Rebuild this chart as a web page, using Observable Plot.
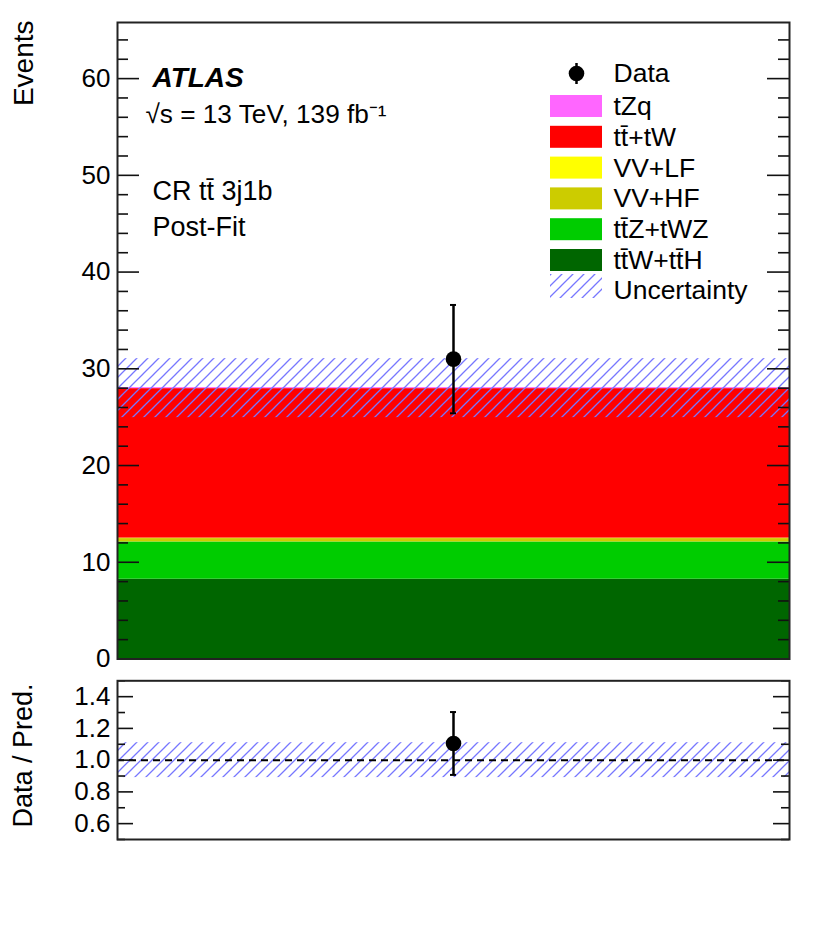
<!DOCTYPE html>
<html>
<head>
<meta charset="utf-8">
<script src="https://cdn.jsdelivr.net/npm/d3@7"></script>
<script src="https://cdn.jsdelivr.net/npm/@observablehq/plot@0.6"></script>
<style>
  body { margin: 0; background: #fff; }
  #chart svg { display: block; overflow: visible; }
</style>
</head>
<body>
<div id="chart"></div>
<script>
// ---------- data ----------
const processes = ["tt\u0304W+tt\u0304H", "tt\u0304Z+tWZ", "VV+HF", "VV+LF", "tt\u0304+tW", "tZq"];
const yields    = [8.25, 3.85, 0.35, 0.05, 15.45, 0.1];
const colors    = ["#006600", "#00cc00", "#cccc00", "#ffff00", "#ff0000", "#ff66ff"];
const binEdges  = [0, 1];
const uncLow    = [24.95];
const uncHigh   = [31.05];
const dataX     = [0.5];
const dataY     = [31];
const dataLow   = [25.4];
const dataHigh  = [36.6];
const ratioY    = [1.105];
const ratioLow  = [0.907];
const ratioHigh = [1.303];
const ratioUncLow  = [0.89];
const ratioUncHigh = [1.11];
const mainTicksMajor = [0, 10, 20, 30, 40, 50, 60];
const mainTicksMinor = [2, 4, 6, 8, 12, 14, 16, 18, 22, 24, 26, 28, 32, 34, 36, 38, 42, 44, 46, 48, 52, 54, 56, 58, 62, 64];
const ratioTicksMajor = [0.6, 0.8, 1.0, 1.2, 1.4];
const ratioTicksMinor = [0.5, 0.7, 0.9, 1.1, 1.3, 1.5];
const legendLabels = ["tZq", "tt\u0304+tW", "VV+LF", "VV+HF", "tt\u0304Z+tWZ", "tt\u0304W+tt\u0304H"];
const legendColors = ["#ff66ff", "#ff0000", "#ffff00", "#cccc00", "#00cc00", "#006600"];

// ---------- layout ----------
const W = 830;
const FONT = "'Liberation Sans', Arial, Helvetica, sans-serif";
const HATCH = "#7777ff";
const TXT = 27;
const LEG = 26.5;
const M = {H: 670, top: 22, bottom: 11.5, left: 117, right: 41, ymax: 65.8};
const R = {H: 266, top: 10.3, bottom: 97, ymin: 0.5, ymax: 1.5};
const innerW = W - M.left - M.right;
const fx = px => (px - M.left) / innerW;                       // pixel -> x data
const fyM = py => M.ymax * (M.H - M.bottom - py) / (M.H - M.top - M.bottom); // pixel -> main y data

const stackRows = processes.map((p, i) => ({process: p, value: yields[i], x1: binEdges[0], x2: binEdges[1]}));
const band = uncLow.map((lo, i) => ({x1: binEdges[0], x2: binEdges[1], y1: lo, y2: uncHigh[i]}));
const pts = dataY.map((v, i) => ({x: dataX[i], y: v, lo: dataLow[i], hi: dataHigh[i]}));
const rpts = ratioY.map((v, i) => ({x: dataX[i], y: v, lo: ratioLow[i], hi: ratioHigh[i]}));
const rband = ratioUncLow.map((lo, i) => ({x1: binEdges[0], x2: binEdges[1], y1: lo, y2: ratioUncHigh[i]}));

function innerTicks(ticks, len) {
  return [
    Plot.ruleY(ticks, {y: d => d, x1: 0, x2: len / innerW, stroke: "#111", strokeWidth: 1.6}),
    Plot.ruleY(ticks, {y: d => d, x1: 1 - len / innerW, x2: 1, stroke: "#111", strokeWidth: 1.6})
  ];
}
const capW = 3 / innerW;

// legend rows (pixel layout converted to data units)
const legendTop = 106, legendStep = 30.8;
const legRows = legendLabels.map((l, i) => ({label: l, color: legendColors[i], yc: legendTop + i * legendStep}));
const uncSwatchY = 286, uncTextY = 290;

const main = Plot.plot({
  width: W, height: M.H,
  marginTop: M.top, marginBottom: M.bottom, marginLeft: M.left, marginRight: M.right,
  style: {fontFamily: FONT, fontSize: "26px", background: "transparent", overflow: "visible"},
  x: {domain: binEdges, axis: null},
  y: {domain: [0, M.ymax], axis: null},
  color: {domain: processes, range: colors},
  marks: [
    Plot.rectY(stackRows, {x1: "x1", x2: "x2", y: "value", fill: "process"}),
    Plot.rect(band, {x1: "x1", x2: "x2", y1: "y1", y2: "y2", fill: "url(#hatchM)"}),
    ...innerTicks(mainTicksMajor, 22),
    ...innerTicks(mainTicksMinor, 11),
    Plot.axisY({ticks: mainTicksMajor, tickSize: 0, tickPadding: 7, label: null, fontSize: 26, fill: "#000"}),
    Plot.ruleX(pts, {x: "x", y1: "lo", y2: "hi", stroke: "#000", strokeWidth: 2.5}),
    Plot.ruleY(pts, {y: "hi", x1: d => d.x - capW, x2: d => d.x + capW, stroke: "#000", strokeWidth: 2}),
    Plot.ruleY(pts, {y: "lo", x1: d => d.x - capW, x2: d => d.x + capW, stroke: "#000", strokeWidth: 2}),
    Plot.dot(pts, {x: "x", y: "y", r: 7.8, fill: "#000"}),
    // annotations
    Plot.text(["ATLAS"], {frameAnchor: "top-left", dx: 152 - M.left, dy: 78 - M.top, textAnchor: "start", lineAnchor: "middle", fontWeight: "bold", fontStyle: "italic", fontSize: 28}),
    Plot.text(["\u221As = 13 TeV, 139 fb\u207B\u00B9"], {frameAnchor: "top-left", dx: 145 - M.left, dy: 114 - M.top, textAnchor: "start", lineAnchor: "middle", fontSize: 26.2}),
    Plot.text(["CR tt\u0304 3j1b"], {frameAnchor: "top-left", dx: 152 - M.left, dy: 191 - M.top, textAnchor: "start", lineAnchor: "middle", fontSize: TXT}),
    Plot.text(["Post-Fit"], {frameAnchor: "top-left", dx: 152 - M.left, dy: 227 - M.top, textAnchor: "start", lineAnchor: "middle", fontSize: TXT}),
    Plot.text(["Events"], {frameAnchor: "top-left", dx: 24 - M.left, dy: 20 - M.top, rotate: -90, textAnchor: "end", lineAnchor: "middle", fontSize: 28}),
    // legend
    Plot.ruleX([0], {x: fx(576), y1: fyM(63), y2: fyM(84), stroke: "#000", strokeWidth: 2.5}),
    Plot.dot([0], {x: fx(576), y: fyM(73), r: 7.8, fill: "#000"}),
    Plot.text(["Data"], {x: fx(613), y: fyM(73), textAnchor: "start", lineAnchor: "middle", fontSize: LEG}),
    Plot.rect(legRows, {x1: fx(550), x2: fx(602), y1: d => fyM(d.yc - 11), y2: d => fyM(d.yc + 11), fill: "color"}),
    Plot.text(legRows, {x: fx(613), y: d => fyM(d.yc), text: "label", textAnchor: "start", lineAnchor: "middle", fontSize: LEG}),
    Plot.rect([0], {x1: fx(550), x2: fx(602), y1: fyM(uncSwatchY - 12), y2: fyM(uncSwatchY + 12), fill: "url(#hatchM)"}),
    Plot.text(["Uncertainty"], {x: fx(613), y: fyM(uncTextY), textAnchor: "start", lineAnchor: "middle", fontSize: LEG}),
    Plot.frame({stroke: "#222", strokeWidth: 2})
  ]
});

const ratio = Plot.plot({
  width: W, height: R.H,
  marginTop: R.top, marginBottom: R.bottom, marginLeft: M.left, marginRight: M.right,
  style: {fontFamily: FONT, fontSize: "26px", background: "transparent", overflow: "visible"},
  x: {domain: binEdges, axis: null},
  y: {domain: [R.ymin, R.ymax], axis: null},
  marks: [
    Plot.rect(rband, {x1: "x1", x2: "x2", y1: "y1", y2: "y2", fill: "url(#hatchR)"}),
    Plot.ruleY([1], {stroke: "#000", strokeWidth: 2, strokeDasharray: "7,5"}),
    ...innerTicks(ratioTicksMajor, 16),
    ...innerTicks(ratioTicksMinor, 8),
    Plot.axisY({ticks: ratioTicksMajor, tickSize: 0, tickPadding: 7, tickFormat: d3.format(".1f"), label: null, fontSize: 26, fill: "#000"}),
    Plot.ruleX(rpts, {x: "x", y1: "lo", y2: "hi", stroke: "#000", strokeWidth: 2.5}),
    Plot.ruleY(rpts, {y: "hi", x1: d => d.x - capW, x2: d => d.x + capW, stroke: "#000", strokeWidth: 2}),
    Plot.ruleY(rpts, {y: "lo", x1: d => d.x - capW, x2: d => d.x + capW, stroke: "#000", strokeWidth: 2}),
    Plot.dot(rpts, {x: "x", y: "y", r: 7.8, fill: "#000"}),
    Plot.text(["Data / Pred."], {frameAnchor: "top-left", dx: 23 - M.left, dy: 683 - 670 - R.top, rotate: -90, textAnchor: "end", lineAnchor: "middle", fontSize: 27}),
    Plot.frame({stroke: "#222", strokeWidth: 2})
  ]
});

function addHatch(svg, id) {
  const ns = "http://www.w3.org/2000/svg";
  const defs = document.createElementNS(ns, "defs");
  defs.innerHTML = `<pattern id="${id}" patternUnits="userSpaceOnUse" width="11" height="11">
    <path d="M-1,1 L1,-1 M0,11 L11,0 M10,12 L12,10" stroke="${HATCH}" stroke-width="1.3" fill="none"/></pattern>`;
  svg.insertBefore(defs, svg.firstChild);
}
addHatch(main, "hatchM");
addHatch(ratio, "hatchR");

const root = document.getElementById("chart");
root.appendChild(main);
root.appendChild(ratio);
</script>
</body>
</html>
